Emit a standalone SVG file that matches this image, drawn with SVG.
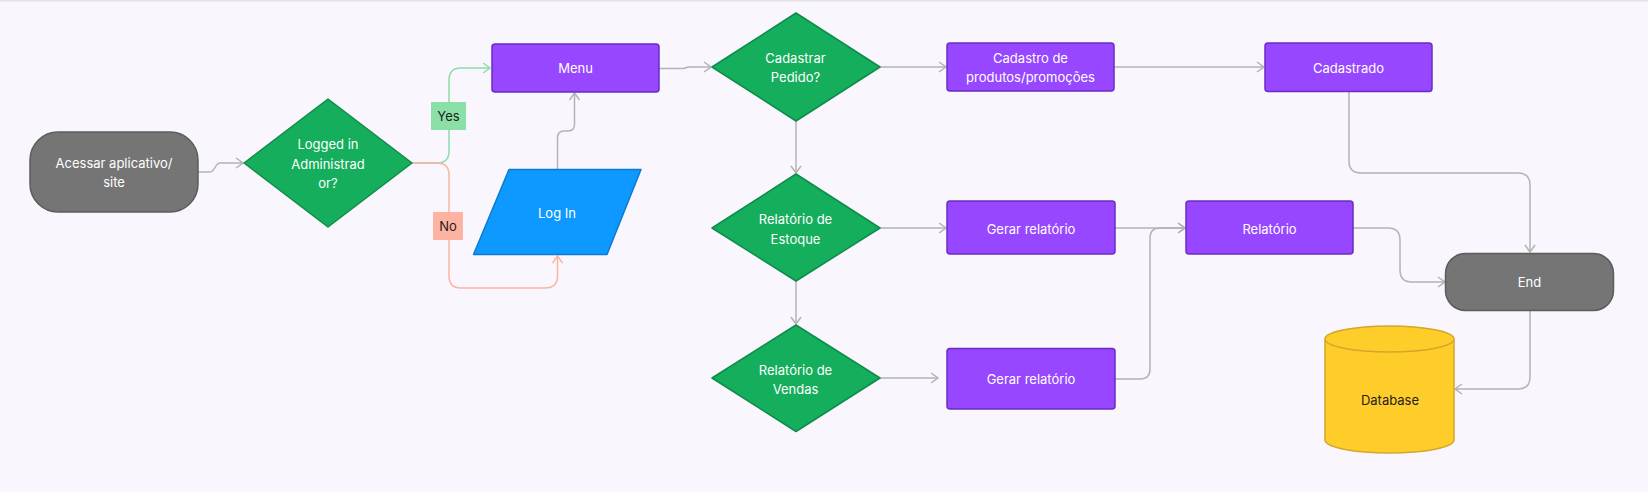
<svg xmlns="http://www.w3.org/2000/svg" width="1648" height="492" viewBox="0 0 1648 492">
<defs>
<style>
.t{font-family:Inter,"Noto Sans","Liberation Sans",sans-serif;font-size:13px;fill:#ffffff;text-anchor:middle;dominant-baseline:central}
.d{fill:#1e1e1e}
.proc{fill:#9747ff;stroke:#6a2dc2;stroke-width:1.5}
.dec{fill:#14ae5c;stroke:#0e8c49;stroke-width:1.5;stroke-linejoin:round}
.term{fill:#757575;stroke:#5c5c5c;stroke-width:1.5}
.io{fill:#0d99ff;stroke:#0a7bd1;stroke-width:1.5;stroke-linejoin:round}
.db{fill:#ffcd29;stroke:#d3a72a;stroke-width:1.5}
.c{fill:none;stroke:#b3b3b3;stroke-width:1.5}
.cy{fill:none;stroke:#8ae0a6;stroke-width:1.5}
.cn{fill:none;stroke:#fdb2a2;stroke-width:1.5}
</style>
<marker id="ag" markerUnits="userSpaceOnUse" viewBox="0 0 10 12" refX="9" refY="6" markerWidth="10" markerHeight="12" orient="auto"><path d="M2,1 L9,6 L2,11" fill="none" stroke="#b3b3b3" stroke-width="1.5"/></marker>
<marker id="ay" markerUnits="userSpaceOnUse" viewBox="0 0 10 12" refX="9" refY="6" markerWidth="10" markerHeight="12" orient="auto"><path d="M2,1 L9,6 L2,11" fill="none" stroke="#8ae0a6" stroke-width="1.5"/></marker>
<marker id="an" markerUnits="userSpaceOnUse" viewBox="0 0 10 12" refX="9" refY="6" markerWidth="10" markerHeight="12" orient="auto"><path d="M2,1 L9,6 L2,11" fill="none" stroke="#fdb2a2" stroke-width="1.5"/></marker>
</defs>
<rect x="0" y="0" width="1648" height="492" fill="#f9f7fd"/>
<rect x="0" y="0" width="1648" height="1.5" fill="#e4e4e6"/>

<g id="connectors">
<path class="c" d="M198,172 H210 C215,172 215,163 220,163 H243" marker-end="url(#ag)"/>
<path class="cy" d="M412,163 H437 Q449,163 449,151 V80 Q449,68 461,68 H490" marker-end="url(#ay)"/>
<path class="cn" d="M412,163 H437 Q449,163 449,175 V276 Q449,288 461,288 H545 Q557.5,288 557.5,276 V256" marker-end="url(#an)"/>
<path class="c" d="M557.5,169 V138 Q557.5,131 564,131 H568 Q574.5,131 574.5,124 V93" marker-end="url(#ag)"/>
<path class="c" d="M659,68.5 H683 C686,68.5 686,67 689,67 H711" marker-end="url(#ag)"/>
<path class="c" d="M880,67 H946" marker-end="url(#ag)"/>
<path class="c" d="M1114,67 H1264" marker-end="url(#ag)"/>
<path class="c" d="M1349,92 V161 Q1349,173 1361,173 H1518 Q1530,173 1530,185 V252" marker-end="url(#ag)"/>
<path class="c" d="M796,120 V173" marker-end="url(#ag)"/>
<path class="c" d="M880,228 H946" marker-end="url(#ag)"/>
<path class="c" d="M1115,228 H1185" marker-end="url(#ag)"/>
<path class="c" d="M1115,379 H1140 Q1150,379 1150,369 V238 Q1150,228 1160,228 H1185" marker-end="url(#ag)"/>
<path class="c" d="M1353,228 H1388 Q1400,228 1400,240 V270 Q1400,282 1412,282 H1445" marker-end="url(#ag)"/>
<path class="c" d="M796,281 V324" marker-end="url(#ag)"/>
<path class="c" d="M880,378 H938" marker-end="url(#ag)"/>
<path class="c" d="M1530,311 V377 Q1530,389 1518,389 H1455" marker-end="url(#ag)"/>
</g>

<g id="label-yes">
<rect x="431" y="102" width="35" height="28" fill="#8ae0a6"/>
<text class="t d" x="448.5" y="116">Yes</text>
</g>
<g id="label-no">
<rect x="433" y="212" width="30" height="28" fill="#fdb2a2"/>
<text class="t d" x="448" y="226">No</text>
</g>

<g id="start">
<rect class="term" x="30" y="132" width="168" height="80" rx="28"/>
<text class="t" x="114" y="162.5">Acessar aplicativo/</text>
<text class="t" x="114" y="182">site</text>
</g>

<g id="logged">
<polygon class="dec" points="328,99 412,163 328,227 244,163"/>
<text class="t" x="328" y="144">Logged in</text>
<text class="t" x="328" y="163.5">Administrad</text>
<text class="t" x="328" y="183">or?</text>
</g>

<g id="menu">
<rect class="proc" x="492" y="44" width="167" height="48" rx="3"/>
<text class="t" x="575.5" y="68">Menu</text>
</g>

<g id="login">
<path class="io" d="M509,169.5 H641 L607,254.5 H473.5 Z"/>
<text class="t" x="557" y="212.5">Log In</text>
</g>

<g id="cadastrar">
<polygon class="dec" points="796,13 880,67 796,121 712,67"/>
<text class="t" x="795.5" y="57.5">Cadastrar</text>
<text class="t" x="795.5" y="77">Pedido?</text>
</g>

<g id="cadastro">
<rect class="proc" x="947" y="43" width="167" height="48" rx="3"/>
<text class="t" x="1030.5" y="57.5">Cadastro de</text>
<text class="t" x="1030.5" y="77">produtos/promoções</text>
</g>

<g id="cadastrado">
<rect class="proc" x="1265" y="43" width="167" height="48.5" rx="3"/>
<text class="t" x="1348.5" y="67.5">Cadastrado</text>
</g>

<g id="estoque">
<polygon class="dec" points="796,174 880,228 796,281 712,228"/>
<text class="t" x="795.5" y="219">Relatório de</text>
<text class="t" x="795.5" y="238.5">Estoque</text>
</g>

<g id="gerar1">
<rect class="proc" x="947" y="201" width="168" height="53" rx="3"/>
<text class="t" x="1031" y="228.5">Gerar relatório</text>
</g>

<g id="relatorio">
<rect class="proc" x="1186" y="201" width="167" height="53" rx="3"/>
<text class="t" x="1269.5" y="228.5">Relatório</text>
</g>

<g id="end">
<rect class="term" x="1445.5" y="253.5" width="168" height="57" rx="20"/>
<text class="t" x="1529.5" y="282">End</text>
</g>

<g id="vendas">
<polygon class="dec" points="796,325 880,378 796,431.5 712,378"/>
<text class="t" x="795.5" y="369.5">Relatório de</text>
<text class="t" x="795.5" y="388.5">Vendas</text>
</g>

<g id="gerar2">
<rect class="proc" x="947" y="348.5" width="168" height="60.5" rx="3"/>
<text class="t" x="1031" y="379">Gerar relatório</text>
</g>

<g id="database">
<path class="db" d="M1325,339 A64.5,13 0 0 1 1454,339 V440 A64.5,13 0 0 1 1325,440 Z"/>
<path class="db" d="M1325,339 A64.5,13 0 0 0 1454,339" fill="none"/>
<text class="t d" x="1390" y="400">Database</text>
</g>
</svg>
